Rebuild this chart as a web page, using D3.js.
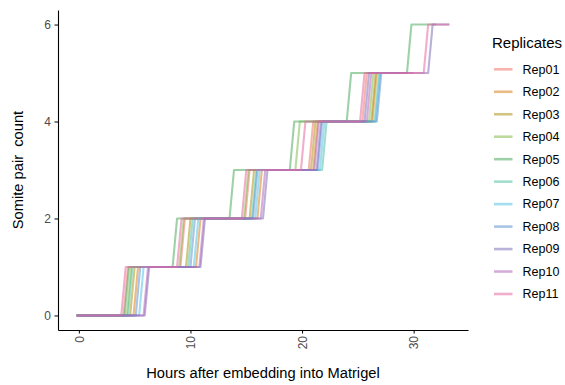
<!DOCTYPE html>
<html lang="en">
<head>
  <meta charset="UTF-8">
  <title>Somite pair count</title>
  <script src="https://d3js.org/d3.v7.min.js"></script>
  <style>
    body { margin: 0; background: #fff; font-family: "Liberation Sans", Arial, Helvetica, sans-serif; }
    svg { display: block; }
    .axis text { fill: #4d4d4d; font-size: 12px; font-family: "Liberation Sans", Arial, sans-serif; }
    .axis path, .axis line { stroke: #000; }
  </style>
</head>
<body>
  <svg width="565" height="385"></svg>
  <script>
    // replicate names and colours
    const replicates = ["Rep01", "Rep02", "Rep03", "Rep04", "Rep05", "Rep06", "Rep07", "Rep08", "Rep09", "Rep10", "Rep11"];
    const colors = ["#F07669", "#D98421", "#AD961E", "#87BB4D", "#50AC61", "#50C1A3", "#58C1E3", "#6193D2", "#8271BC", "#B469BC", "#E669A3"];

    // hours at which each replicate starts rising to the next somite pair (null = never)
    const startTimes = [-0.2, -0.2, -0.2, -0.2, -0.2, -0.2, -0.2, -0.2, -0.2, -0.2, -0.2];
    const rise1 = [4.0, 4.9, 4.6, 4.3, 4.1, 4.4, 5.4, 5.1, 5.9, 5.8, 3.8];
    const rise2 = [9.1, 10.5, 9.6, 9.0, 8.4, 9.8, 10.3, 10.0, 10.9, 10.8, 8.8];
    const rise3 = [14.9, 16.0, 15.3, 14.8, 13.5, 15.5, 15.8, 15.6, 16.5, 16.3, 14.6];
    const rise4 = [20.6, 21.0, 20.8, 19.4, 18.9, 21.8, 21.6, 21.4, 21.3, 21.1, 19.9];
    const rise5 = [25.4, 26.3, 26.2, 26.0, 24.0, 26.5, 26.6, 26.7, 25.6, 25.8, 25.2];
    const rise6 = [null, null, null, null, 29.4, null, null, null, 31.3, null, 30.9];
    const endTimes = [29.5, 29.0, 29.0, 29.5, 32.0, 28.5, 28.5, 29.0, 33.2, 30.0, 33.2];
    const riseDuration = 0.4; // one imaging interval

    const yTicks = [0, 2, 4, 6];
    const xTicks = [0, 10, 20, 30];

    const rises = [rise1, rise2, rise3, rise4, rise5, rise6];

    // build step series
    const series = replicates.map((name, i) => {
      const pts = [{ t: startTimes[i], n: 0 }];
      let level = 0;
      rises.forEach(r => {
        if (r[i] == null) return;
        pts.push({ t: r[i], n: level });
        level += 1;
        pts.push({ t: r[i] + riseDuration, n: level });
      });
      pts.push({ t: endTimes[i], n: level });
      return { name, color: colors[i], pts };
    });

    const svg = d3.select("svg");
    const margin = { top: 10, right: 97, bottom: 55, left: 58 };
    const width = 565 - margin.left - margin.right;
    const height = 385 - margin.top - margin.bottom;

    const allPts = series.flatMap(s => s.pts);
    const tExt = d3.extent(allPts, d => d.t);
    const tPad = (tExt[1] - tExt[0]) * 0.05;
    const x = d3.scaleLinear().domain([tExt[0] - tPad, tExt[1] + tPad]).range([0, width]);
    const y = d3.scaleLinear().domain([-0.3, 6.3]).range([height, 0]);

    const g = svg.append("g").attr("transform", `translate(${margin.left},${margin.top})`);

    // lines
    const line = d3.line().x(d => x(d.t)).y(d => y(d.n));
    g.selectAll(".rep")
      .data(series)
      .enter().append("path")
      .attr("class", "rep")
      .attr("d", d => line(d.pts))
      .attr("fill", "none")
      .attr("stroke", d => d.color)
      .attr("stroke-opacity", 0.55)
      .attr("stroke-width", 2.1)
      .attr("stroke-linejoin", "round");

    // x axis
    const xAxis = g.append("g")
      .attr("class", "axis")
      .attr("transform", `translate(0,${height})`)
      .call(d3.axisBottom(x).tickValues(xTicks).tickFormat(d3.format("d")).tickSize(3.5).tickSizeOuter(0));
    xAxis.select(".domain").attr("stroke-width", 1.1);
    xAxis.selectAll(".tick line").attr("stroke", "#333");
    xAxis.selectAll("text")
      .attr("transform", "rotate(-90)")
      .attr("text-anchor", "end")
      .attr("x", -6)
      .attr("y", 0)
      .attr("dy", "0.35em");

    // y axis
    const yAxis = g.append("g")
      .attr("class", "axis")
      .call(d3.axisLeft(y).tickValues(yTicks).tickFormat(d3.format("d")).tickSize(3.5).tickSizeOuter(0));
    yAxis.select(".domain").attr("stroke-width", 1.1);
    yAxis.selectAll(".tick line").attr("stroke", "#333");
    yAxis.selectAll("text").attr("x", -7);

    // axis titles
    svg.append("text")
      .attr("x", margin.left + width / 2)
      .attr("y", 378)
      .attr("text-anchor", "middle")
      .attr("font-size", 14.7)
      .attr("fill", "#000")
      .text("Hours after embedding into Matrigel");

    svg.append("text")
      .attr("transform", `translate(23,${margin.top + height / 2}) rotate(-90)`)
      .attr("text-anchor", "middle")
      .attr("font-size", 14.7)
      .attr("fill", "#000")
      .attr("xml:space", "preserve")
      .style("white-space", "pre")
      .text("Somite pair  count");

    // legend
    const legend = svg.append("g").attr("transform", "translate(492,0)");
    legend.append("text")
      .attr("x", 0)
      .attr("y", 48)
      .attr("font-size", 15)
      .attr("fill", "#000")
      .text("Replicates");

    const items = legend.selectAll(".legend-item")
      .data(series)
      .enter().append("g")
      .attr("class", "legend-item")
      .attr("transform", (d, i) => `translate(0,${69.3 + i * 22.47})`);
    items.append("line")
      .attr("x1", 2).attr("x2", 20.5)
      .attr("stroke", d => d.color)
      .attr("stroke-opacity", 0.55)
      .attr("stroke-width", 2.6);
    items.append("text")
      .attr("x", 30.5)
      .attr("dy", "0.35em")
      .attr("font-size", 12.5)
      .attr("fill", "#000")
      .text(d => d.name);
  </script>
</body>
</html>
